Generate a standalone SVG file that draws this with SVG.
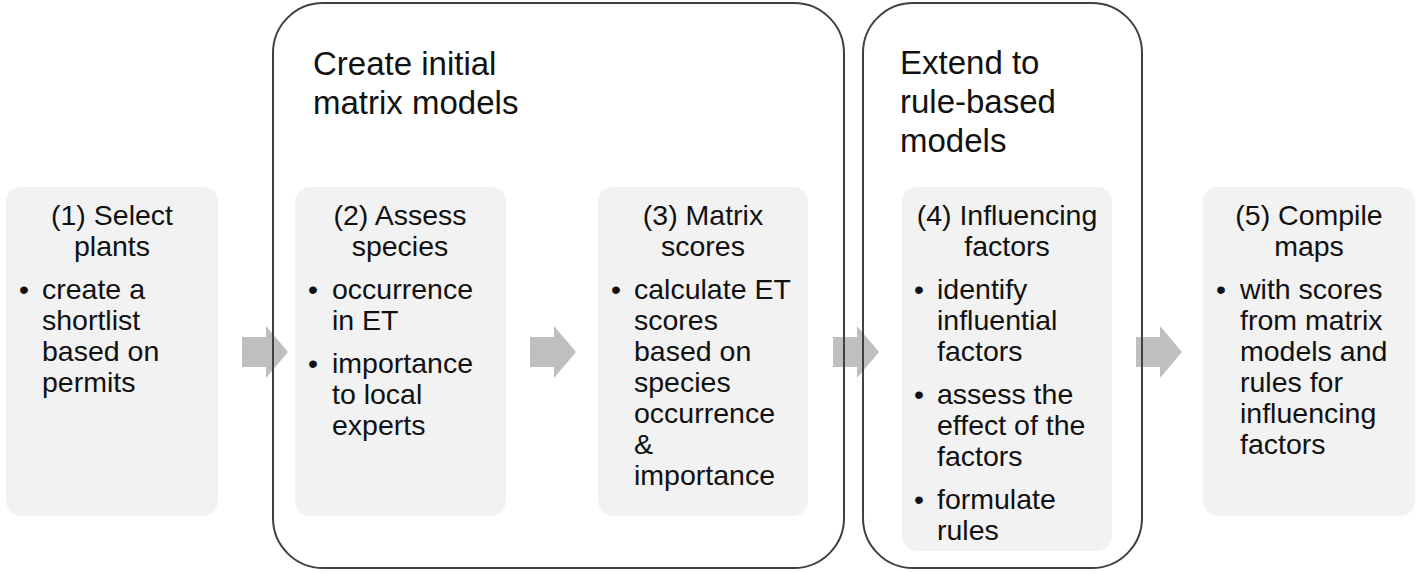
<svg xmlns="http://www.w3.org/2000/svg" width="1418" height="573" viewBox="0 0 1418 573">
<style>
  .box{fill:#f2f2f2;stroke:none}
  .cont{fill:none;stroke:#404040;stroke-width:2}
  .arrow{fill:#bfbfbf;stroke:none}
  text{font-family:"Liberation Sans",Arial,sans-serif;fill:#111}
  .t{font-size:28.5px}
  .c{text-anchor:middle}
  .h{font-size:33px}
</style>
<rect width="1418" height="573" fill="#ffffff"/>
<g id="connectors">
  <polygon class="arrow" points="242,337 266,337 266,326 288,352 266,378 266,367 242,367"/>
  <polygon class="arrow" points="530,337 554,337 554,326 576,352 554,378 554,367 530,367"/>
  <polygon class="arrow" points="833,337 857,337 857,326 879,352 857,378 857,367 833,367"/>
  <polygon class="arrow" points="1136,337 1160,337 1160,326 1182,352 1160,378 1160,367 1136,367"/>
</g>
<g id="group-matrix">
  <rect class="cont" x="273" y="3" width="571" height="565" rx="50" ry="50"/>
  <text class="h" x="313" y="75">Create initial</text>
  <text class="h" x="313" y="114">matrix models</text>
</g>
<g id="group-rules">
  <rect class="cont" x="863" y="3" width="279" height="565" rx="50" ry="50"/>
  <text class="h" x="900" y="74">Extend to</text>
  <text class="h" x="900" y="113">rule-based</text>
  <text class="h" x="900" y="152">models</text>
</g>
<g id="step1">
  <rect class="box" x="6" y="187" width="212" height="329" rx="15" ry="15"/>
  <text class="t c" x="112" y="225">(1) Select</text>
  <text class="t c" x="112" y="256">plants</text>
  <text class="t" x="19" y="299">•</text>
  <text class="t" x="42" y="299">create a</text>
  <text class="t" x="42" y="330">shortlist</text>
  <text class="t" x="42" y="361">based on</text>
  <text class="t" x="42" y="392">permits</text>
</g>
<g id="step2">
  <rect class="box" x="295" y="187" width="211" height="329" rx="15" ry="15"/>
  <text class="t c" x="400" y="225">(2) Assess</text>
  <text class="t c" x="400" y="256">species</text>
  <text class="t" x="308" y="299">•</text>
  <text class="t" x="332" y="299">occurrence</text>
  <text class="t" x="332" y="330">in ET</text>
  <text class="t" x="308" y="373">•</text>
  <text class="t" x="332" y="373">importance</text>
  <text class="t" x="332" y="404">to local</text>
  <text class="t" x="332" y="435">experts</text>
</g>
<g id="step3">
  <rect class="box" x="598" y="187" width="210" height="329" rx="15" ry="15"/>
  <text class="t c" x="703" y="225">(3) Matrix</text>
  <text class="t c" x="703" y="256">scores</text>
  <text class="t" x="611" y="299">•</text>
  <text class="t" x="634" y="299">calculate ET</text>
  <text class="t" x="634" y="330">scores</text>
  <text class="t" x="634" y="361">based on</text>
  <text class="t" x="634" y="392">species</text>
  <text class="t" x="634" y="423">occurrence</text>
  <text class="t" x="634" y="454">&amp;</text>
  <text class="t" x="634" y="485">importance</text>
</g>
<g id="step4">
  <rect class="box" x="902" y="187" width="210" height="364" rx="15" ry="15"/>
  <text class="t c" x="1007" y="225">(4) Influencing</text>
  <text class="t c" x="1007" y="256">factors</text>
  <text class="t" x="914" y="299">•</text>
  <text class="t" x="937" y="299">identify</text>
  <text class="t" x="937" y="330">influential</text>
  <text class="t" x="937" y="361">factors</text>
  <text class="t" x="914" y="404">•</text>
  <text class="t" x="937" y="404">assess the</text>
  <text class="t" x="937" y="435">effect of the</text>
  <text class="t" x="937" y="466">factors</text>
  <text class="t" x="914" y="509">•</text>
  <text class="t" x="937" y="509">formulate</text>
  <text class="t" x="937" y="540">rules</text>
</g>
<g id="step5">
  <rect class="box" x="1203" y="187" width="212" height="329" rx="15" ry="15"/>
  <text class="t c" x="1309" y="225">(5) Compile</text>
  <text class="t c" x="1309" y="256">maps</text>
  <text class="t" x="1216" y="299">•</text>
  <text class="t" x="1240" y="299">with scores</text>
  <text class="t" x="1240" y="330">from matrix</text>
  <text class="t" x="1240" y="361">models and</text>
  <text class="t" x="1240" y="392">rules for</text>
  <text class="t" x="1240" y="423">influencing</text>
  <text class="t" x="1240" y="454">factors</text>
</g>
</svg>
